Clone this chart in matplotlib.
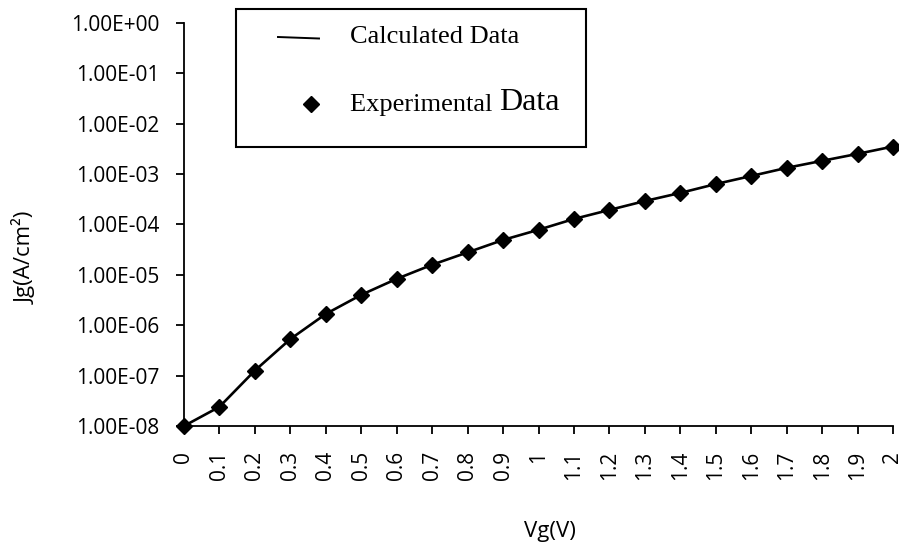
import matplotlib
matplotlib.use('Agg')
import matplotlib.pyplot as plt
from matplotlib.patches import Rectangle
from matplotlib.lines import Line2D

# gate voltage (V) and gate current density (A/cm^2)
vg = [0.0, 0.1, 0.2, 0.3, 0.4, 0.5, 0.6, 0.7, 0.8, 0.9, 1.0,
      1.1, 1.2, 1.3, 1.4, 1.5, 1.6, 1.7, 1.8, 1.9, 2.0]
jg = [1.0e-8, 2.4e-8, 1.26e-7, 5.3e-7, 1.67e-6, 4.0e-6, 8.3e-6, 1.58e-5, 2.78e-5, 4.9e-5, 7.8e-5,
      1.28e-4, 1.93e-4, 2.9e-4, 4.2e-4, 6.3e-4, 9.1e-4, 1.32e-3, 1.82e-3, 2.5e-3, 3.5e-3]

x_ticks = [0.0, 0.1, 0.2, 0.3, 0.4, 0.5, 0.6, 0.7, 0.8, 0.9, 1.0,
           1.1, 1.2, 1.3, 1.4, 1.5, 1.6, 1.7, 1.8, 1.9, 2.0]
x_labels = ['0', '0.1', '0.2', '0.3', '0.4', '0.5', '0.6', '0.7', '0.8', '0.9', '1',
            '1.1', '1.2', '1.3', '1.4', '1.5', '1.6', '1.7', '1.8', '1.9', '2']
y_ticks = [1e0, 1e-1, 1e-2, 1e-3, 1e-4, 1e-5, 1e-6, 1e-7, 1e-8]
y_labels = ['1.00E+00', '1.00E-01', '1.00E-02', '1.00E-03', '1.00E-04',
            '1.00E-05', '1.00E-06', '1.00E-07', '1.00E-08']

W, H = 899, 546
fig = plt.figure(figsize=(W / 100, H / 100), dpi=100)
ax = fig.add_axes([184 / W, 1 - 426 / H, (893 - 184) / W, (426 - 22.7) / H])

ax.plot(vg, jg, color='black', linewidth=1.9, marker='D', markersize=8.5,
        markerfacecolor='black', markeredgecolor='black', clip_on=False, zorder=3)

ax.set_yscale('log')
ax.set_ylim(1e-8, 1e0)
ax.set_xlim(0, 2)
ax.minorticks_off()

tick_font = 'Open Sans'
ax.set_yticks(y_ticks)
ax.set_yticklabels(y_labels, fontfamily=tick_font, fontsize=15)
ax.set_xticks(x_ticks)
ax.set_xticklabels(x_labels, fontfamily=tick_font, fontsize=15, rotation=90)

for side in ['top', 'right']:
    ax.spines[side].set_visible(False)
for side in ['left', 'bottom']:
    ax.spines[side].set_linewidth(1.3)
ax.tick_params(axis='both', direction='out', length=6, width=1.3)
ax.tick_params(axis='y', pad=12)
ax.tick_params(axis='x', pad=12)

fig.text(25 / W, 1 - 258 / H, 'Jg(A/cm²)', rotation=90, ha='center', va='center',
         fontfamily=tick_font, fontsize=16)
fig.text(550 / W, 1 - 531 / H, 'Vg(V)', ha='center', va='center',
         fontfamily=tick_font, fontsize=16)

# hand-built legend box with mixed font sizes
fig.patches.append(Rectangle((236 / W, 1 - 147 / H), (586 - 236) / W, (147 - 9) / H,
                             transform=fig.transFigure, fill=False,
                             edgecolor='black', linewidth=1.5))
fig.lines.append(Line2D([278 / W, 319 / W], [1 - 37 / H, 1 - 38.5 / H],
                        transform=fig.transFigure, color='black', linewidth=1.4))
fig.lines.append(Line2D([311 / W], [1 - 104 / H], transform=fig.transFigure,
                        marker='D', markersize=8, color='black', linestyle='none'))
serif = 'Liberation Serif'
fig.text(350 / W, 1 - 37 / H, 'Calculated Data', ha='left', va='center',
         fontfamily=serif, fontsize=19)
t = fig.text(350 / W, 1 - 105 / H, 'Experimental ', ha='left', va='center',
             fontfamily=serif, fontsize=19)
fig.canvas.draw()
bb = t.get_window_extent()
fig.text(bb.x1 / W, 1 - 102 / H, 'Data', ha='left', va='center',
         fontfamily=serif, fontsize=23)

fig.savefig('out.png', dpi=100)
